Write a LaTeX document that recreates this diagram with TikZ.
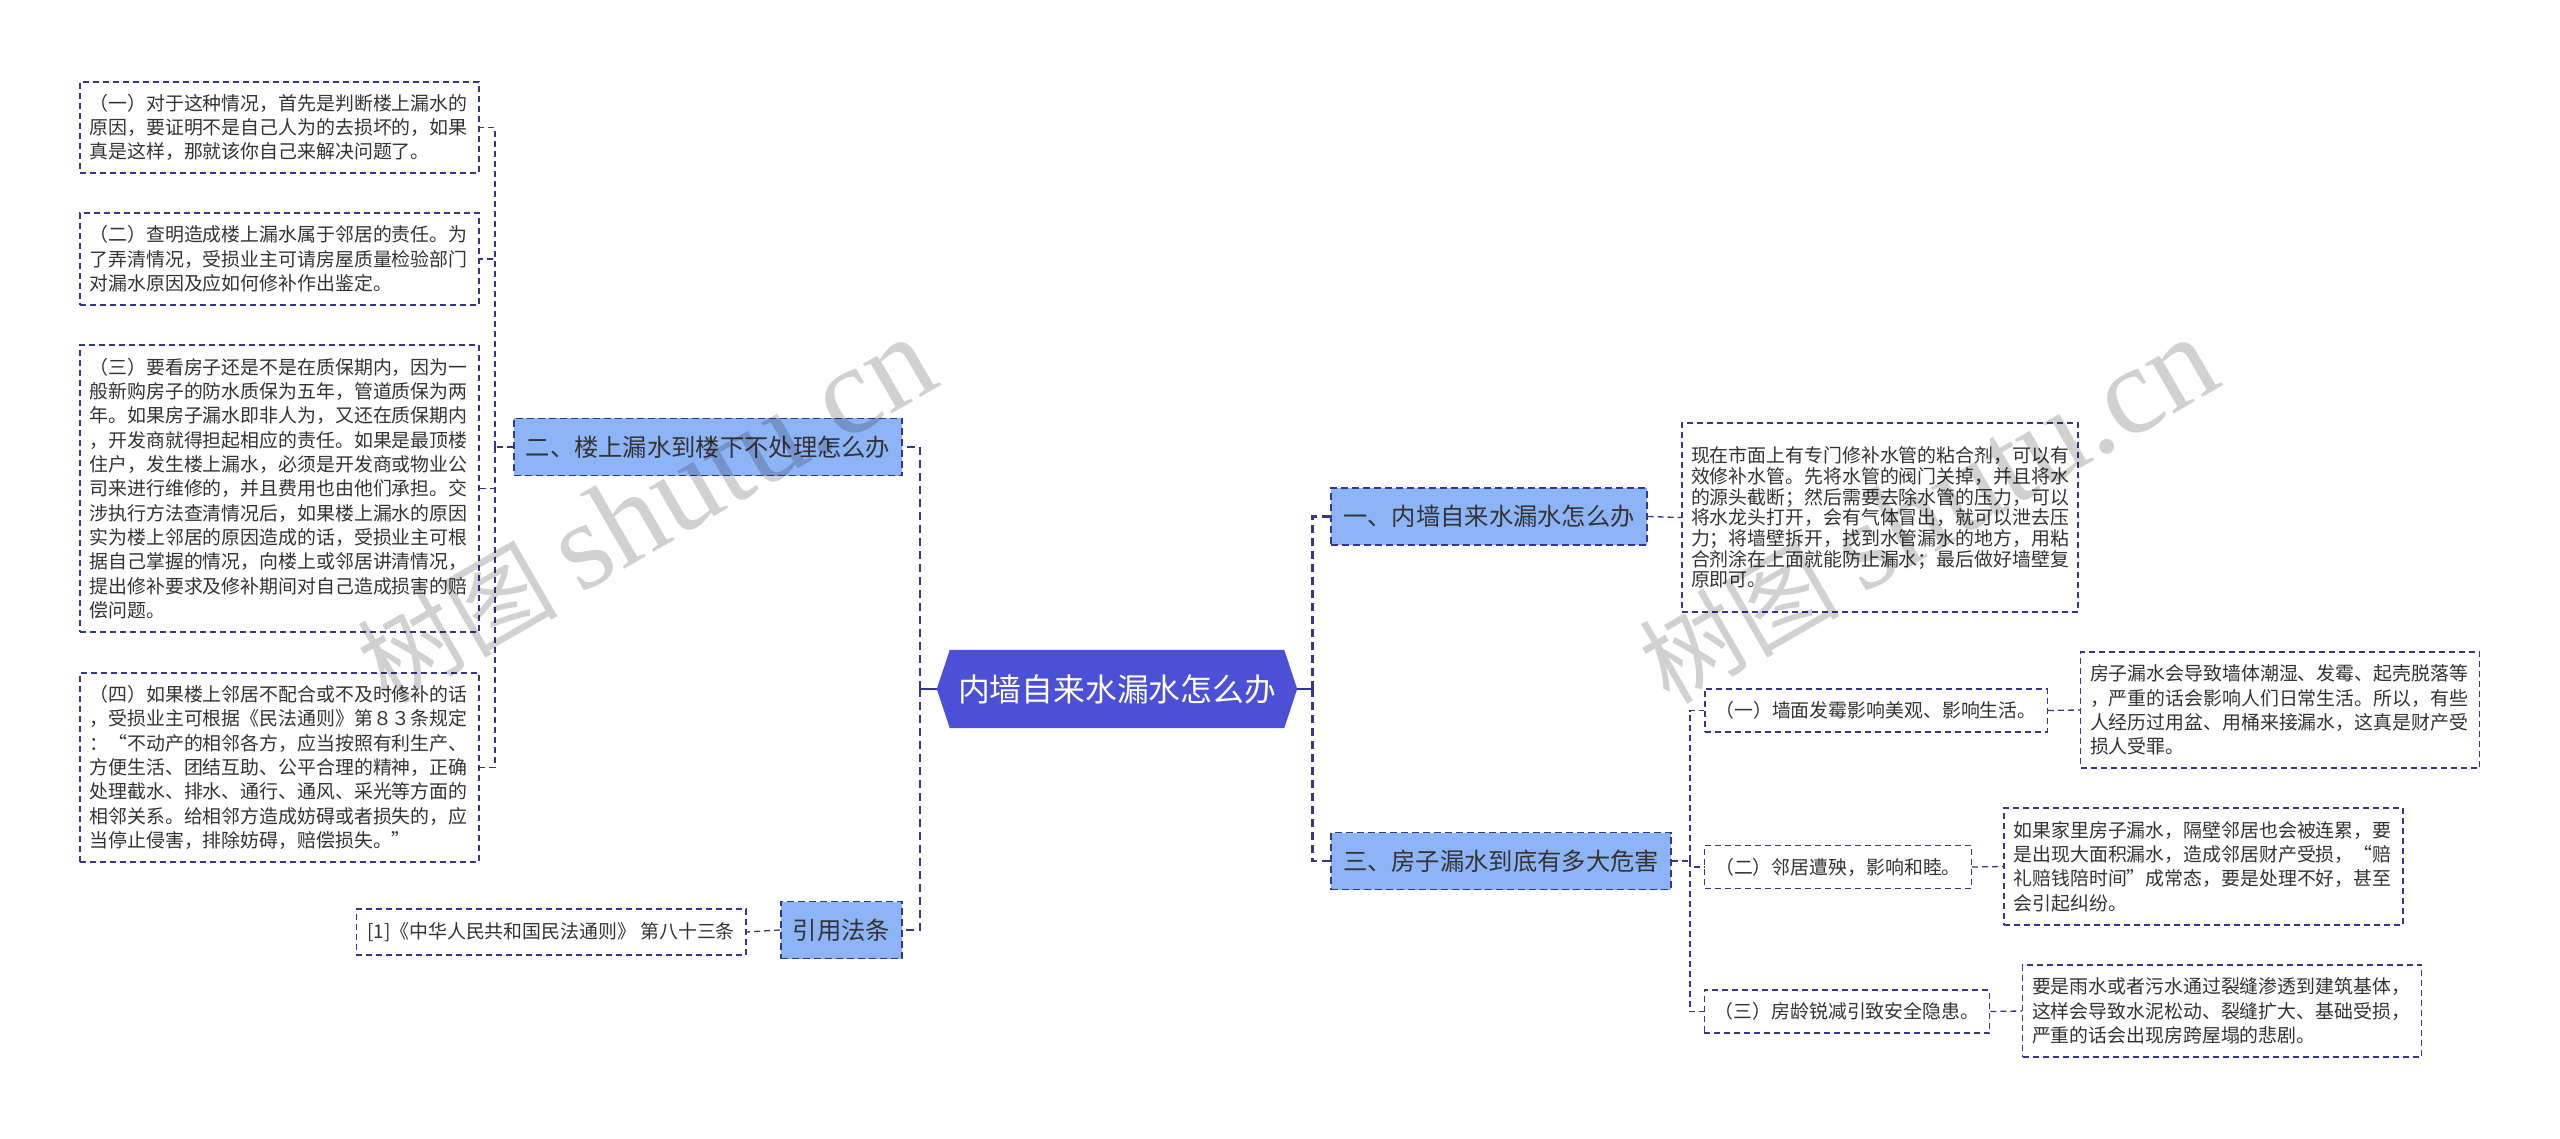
\documentclass[tikz,border=0pt]{standalone}
\usepackage{fontspec}
\setmainfont{Noto Sans CJK SC}
\newfontfamily\wmlatin{Liberation Serif}
\usetikzlibrary{backgrounds}
\definecolor{navy}{HTML}{33378F}
\definecolor{branchblue}{HTML}{8DB4F7}
\definecolor{hexblue}{HTML}{4B50D6}
\definecolor{txt}{HTML}{333333}
\begin{document}
\begin{tikzpicture}[x=1pt,y=-1pt,
  leaf/.style={draw=navy, line width=1.3pt, dash pattern=on 6pt off 4pt, fill=white, text=txt,
    text width=380pt, align=left, inner xsep=9.5pt, inner ysep=2pt,
    font=\fontsize{18.9}{24.3}\selectfont},
  subnode/.style={draw=navy, line width=1.3pt, dash pattern=on 6pt off 4pt, fill=white, text=txt,
    inner xsep=10.5pt, inner ysep=0pt, minimum height=43pt, font=\fontsize{18.9}{22}\selectfont},
  branch/.style={draw=navy, line width=1.8pt, dash pattern=on 7pt off 4pt, fill=branchblue, text=txt,
    inner xsep=12pt, inner ysep=0pt, minimum height=57pt, font=\fontsize{24.3}{28}\selectfont},
  hexnode/.style={text=white, inner xsep=8pt, inner ysep=0pt, minimum height=78pt, minimum width=334pt,
    font=\fontsize{31.8}{36}\selectfont},
  mainline/.style={draw=navy, line width=2.6pt, dash pattern=on 8pt off 5pt},
  mainsolid/.style={draw=navy, line width=2.6pt},
  subline/.style={draw=navy, line width=1.3pt, dash pattern=on 6pt off 4pt},
  wmark/.style={rotate=30, text=black, text opacity=0.18, inner sep=0pt}
]
\useasboundingbox (0,0) rectangle (2560,1139);

% centre
\node[hexnode] (c) at (1117,689) {内墙自来水漏水怎么办};
\begin{scope}[on background layer]
\fill[white] (0,0) rectangle (2560,1139);
\fill[hexblue] ([xshift=-13pt]c.west) -- (c.north west) -- (c.north east) -- ([xshift=13pt]c.east) -- (c.south east) -- (c.south west) -- cycle;
\end{scope}

% left branches
\node[branch] (b2) at (708,447) {二、楼上漏水到楼下不处理怎么办};
\node[branch] (b4) at (841.5,930) {引用法条};

\node[leaf, minimum height=91pt] (l1) at (279.5,127.5) {（一）对于这种情况，首先是判断楼上漏水的\\原因，要证明不是自己人为的去损坏的，如果\\真是这样，那就该你自己来解决问题了。};
\node[leaf, minimum height=92pt] (l2) at (279.5,259) {（二）查明造成楼上漏水属于邻居的责任。为\\了弄清情况，受损业主可请房屋质量检验部门\\对漏水原因及应如何修补作出鉴定。};
\node[leaf, minimum height=287pt] (l3) at (279.5,488.5) {（三）要看房子还是不是在质保期内，因为一\\般新购房子的防水质保为五年，管道质保为两\\年。如果房子漏水即非人为，又还在质保期内\\，开发商就得担起相应的责任。如果是最顶楼\\住户，发生楼上漏水，必须是开发商或物业公\\司来进行维修的，并且费用也由他们承担。交\\涉执行方法查清情况后，如果楼上漏水的原因\\实为楼上邻居的原因造成的话，受损业主可根\\据自己掌握的情况，向楼上或邻居讲清情况，\\提出修补要求及修补期间对自己造成损害的赔\\偿问题。};
\node[leaf, minimum height=189pt] (l4) at (279.5,767.5) {（四）如果楼上邻居不配合或不及时修补的话\\，受损业主可根据《民法通则》第８３条规定\\：“不动产的相邻各方，应当按照有利生产、\\方便生活、团结互助、公平合理的精神，正确\\处理截水、排水、通行、通风、采光等方面的\\相邻关系。给相邻方造成妨碍或者损失的，应\\当停止侵害，排除妨碍，赔偿损失。”};
\node[draw=navy, line width=1.3pt, dash pattern=on 6pt off 4pt, fill=white, text=txt,
  inner xsep=11pt, inner ysep=0pt, minimum height=46pt, minimum width=388pt,
  font=\fontsize{18.9}{22}\selectfont] (cite) at (551,932) {[1]《中华人民共和国民法通则》 第八十三条};

% right branches
\node[branch] (b1) at (1489,516.5) {一、内墙自来水漏水怎么办};
\node[branch] (b3) at (1501,861) {三、房子漏水到底有多大危害};

\node[leaf, text width=378pt, inner xsep=9pt, minimum height=189pt,
  font=\fontsize{18.9}{20.7}\selectfont] (d1) at (1880,517.5) {现在市面上有专门修补水管的粘合剂，可以有\\效修补水管。先将水管的阀门关掉，并且将水\\的源头截断；然后需要去除水管的压力，可以\\将水龙头打开，会有气体冒出，就可以泄去压\\力；将墙壁拆开，找到水管漏水的地方，用粘\\合剂涂在上面就能防止漏水；最后做好墙壁复\\原即可。};

\node[subnode] (s1) at (1876,710.5) {（一）墙面发霉影响美观、影响生活。};
\node[subnode] (s2) at (1838,867) {（二）邻居遭殃，影响和睦。};
\node[subnode] (s3) at (1847,1011.5) {（三）房龄锐减引致安全隐患。};

\node[leaf, minimum height=116pt] (t1) at (2280,710) {房子漏水会导致墙体潮湿、发霉、起壳脱落等\\，严重的话会影响人们日常生活。所以，有些\\人经历过用盆、用桶来接漏水，这真是财产受\\损人受罪。};
\node[leaf, minimum height=117pt] (t2) at (2203.5,866.5) {如果家里房子漏水，隔壁邻居也会被连累，要\\是出现大面积漏水，造成邻居财产受损，“赔\\礼赔钱陪时间”成常态，要是处理不好，甚至\\会引起纠纷。};
\node[leaf, minimum height=92pt] (t3) at (2222,1011) {要是雨水或者污水通过裂缝渗透到建筑基体，\\这样会导致水泥松动、裂缝扩大、基础受损，\\严重的话会出现房跨屋塌的悲剧。};

% main connectors
\draw[mainsolid] ([xshift=-13pt]c.west) -- ++(-17,0) coordinate (lj);
\draw[mainline] (lj) |- (b2.east);
\draw[mainline] (lj) |- (b4.east);
\draw[mainsolid] ([xshift=13pt]c.east) -- ++(15,0) coordinate (rj);
\draw[mainline] (rj) |- (b1.west);
\draw[mainline] (rj) |- (b3.west);

% sub connectors left
\draw[subline] (b2.west) -- ++(-18,0) coordinate (lsj);
\draw[subline] (lsj) |- (l1.east);
\draw[subline] (lsj) |- (l2.east);
\draw[subline] (lsj) |- (l3.east);
\draw[subline] (lsj) |- (l4.east);
\draw[subline] (b4.west) -- (cite.east);

% sub connectors right
\draw[subline] (b1.east) -- (d1.west);
\draw[subline] (b3.east) -- ++(18,0) coordinate (rsj);
\draw[subline] (rsj) |- (s1.west);
\draw[subline] (rsj) |- (s2.west);
\draw[subline] (rsj) |- (s3.west);
\draw[subline] (s1.east) -- (t1.west);
\draw[subline] (s2.east) -- (t2.west);
\draw[subline] (s3.east) -- (t3.west);

% watermarks
\node[wmark] (wm1) at (646,511) {\fontsize{100}{100}\selectfont 树图 {\wmlatin\fontsize{125}{125}\selectfont shutu.cn}};
\node[wmark] (wm2) at (1928,511) {\fontsize{100}{100}\selectfont 树图 {\wmlatin\fontsize{125}{125}\selectfont shutu.cn}};
\end{tikzpicture}
\end{document}
